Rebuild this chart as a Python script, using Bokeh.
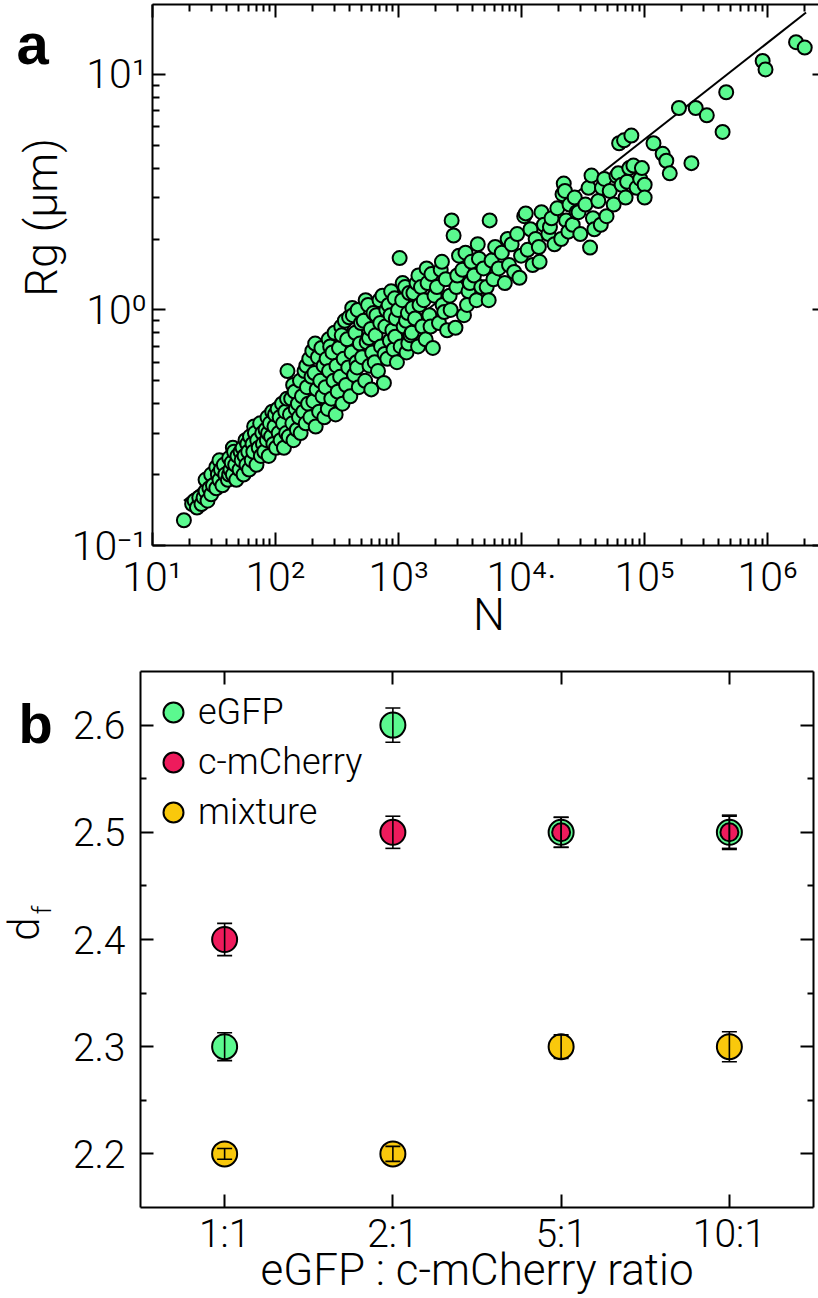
import math
from bokeh.plotting import figure
from bokeh.models import (Range1d, FixedTicker, LogAxis, LinearAxis,
                          Label, Whisker, TeeHead, ColumnDataSource,
                          Legend, LegendItem)
from bokeh.layouts import column, row
from bokeh.embed import file_html
from bokeh.resources import INLINE

# ---------------- panel a data ----------------
N = [
    18, 21, 22, 23, 24, 25,
    26, 27, 27, 28, 29, 30, 30, 31,
    33, 33, 34, 35, 35, 36, 37, 38, 39,
    41, 42, 42, 43, 44, 45, 45, 46, 47, 48, 49,
    51, 52, 53, 54, 55, 56, 57, 58, 59, 60, 61, 62,
    64, 65, 66, 67, 68, 70, 71, 73, 75, 76, 78, 79,
    81, 83, 85, 86, 87, 88, 90, 92, 94, 96, 98, 99,
    101, 104, 106, 108, 110, 113, 115, 117, 120, 122, 124, 125,
    128, 131, 134, 137, 139, 140, 143, 146, 149, 152, 155, 158,
    160, 164, 168, 172, 176, 178, 180, 184, 188, 192, 196, 199,
    203, 207, 210, 212, 216, 221, 226, 231, 236, 241, 246, 249,
    255, 260, 266, 270, 272, 278, 284, 290, 296, 302, 308, 313,
    320, 328, 335, 342, 345, 350, 358, 366, 374, 382, 390, 396,
    405, 415, 420, 425, 435, 445, 455, 460, 465, 475, 485, 495,
    505, 520, 535, 540, 550, 565, 575, 580, 595, 600, 610, 625,
    640, 650, 660, 680, 700, 710, 720, 740, 760, 770, 780, 795,
    810, 830, 850, 860, 870, 890, 910, 930, 940, 950, 970, 990,
    1020, 1040, 1070, 1080, 1100, 1130, 1150, 1160, 1190, 1200, 1220, 1250,
    1280, 1300, 1320, 1360, 1400, 1440, 1450, 1480, 1520, 1560,
    1600, 1660, 1690, 1720, 1780, 1820, 1850, 1900, 1960,
    2050, 2130, 2200, 2250, 2280, 2350, 2420, 2480,
    2600, 2650, 2700, 2800, 2900, 2950, 3000, 3100,
    3300, 3400, 3500, 3600, 3700, 3800, 3900,
    4100, 4300, 4400, 4500, 4700, 4900,
    5200, 5400, 5500, 5700, 5900, 6100,
    6500, 6900, 7300, 7700, 7900,
    8300, 8700, 9200, 9600, 9900,
    10500, 10800, 11200, 11800, 12300,
    13000, 13800, 14000, 14500, 15200,
    16500, 17000, 17500, 18500, 19500,
    21000, 21500, 22000, 22500, 23000, 24000, 24500,
    26000, 27000, 28000, 29000, 30000,
    33000, 35000, 36000, 37000, 38000, 39000,
    42000, 44000, 45000, 47000, 49000,
    52000, 56000, 59000, 61000, 62000,
    65000, 68000, 70000, 72000, 75000, 78000,
    81000, 86000, 92000, 95000, 100000, 100000,
    118000, 140000, 150000, 160000, 190000, 240000, 260000,
    320000, 430000, 460000, 910000, 960000, 1700000, 2000000,
]
Rg = [
    0.128, 0.150, 0.155, 0.145, 0.160, 0.150,
    0.160, 0.170, 0.190, 0.155, 0.175, 0.165, 0.200, 0.180,
    0.175, 0.215, 0.200, 0.190, 0.230, 0.210, 0.180, 0.220, 0.200,
    0.190, 0.235, 0.200, 0.210, 0.225, 0.200, 0.260, 0.250, 0.220, 0.190, 0.240,
    0.210, 0.250, 0.230, 0.260, 0.200, 0.240, 0.280, 0.220, 0.270, 0.250, 0.210, 0.290,
    0.230, 0.270, 0.250, 0.320, 0.300, 0.220, 0.280, 0.260, 0.330, 0.240, 0.300, 0.270,
    0.250, 0.310, 0.280, 0.350, 0.300, 0.240, 0.330, 0.290, 0.370, 0.270, 0.320, 0.360,
    0.260, 0.380, 0.300, 0.350, 0.280, 0.400, 0.330, 0.260, 0.370, 0.300, 0.420, 0.550,
    0.290, 0.360, 0.420, 0.330, 0.480, 0.280, 0.450, 0.380, 0.310, 0.400, 0.350, 0.500,
    0.300, 0.430, 0.370, 0.550, 0.330, 0.580, 0.470, 0.400, 0.620, 0.350, 0.520, 0.670,
    0.410, 0.540, 0.720, 0.320, 0.460, 0.630, 0.370, 0.500, 0.690, 0.430, 0.580, 0.350,
    0.470, 0.620, 0.380, 0.750, 0.550, 0.700, 0.420, 0.660, 0.500, 0.800, 0.360, 0.580,
    0.450, 0.690, 0.520, 0.850, 0.780, 0.400, 0.620, 0.900, 0.480, 0.750, 0.570, 0.930,
    0.430, 0.660, 1.020, 0.950, 0.530, 0.800, 0.600, 0.570, 1.000, 0.470, 0.720, 0.880,
    0.630, 0.900, 0.500, 1.100, 0.730, 1.050, 0.760, 0.580, 0.830, 0.460, 0.660, 0.970,
    0.600, 0.780, 0.950, 0.550, 1.100, 0.880, 0.700, 1.150, 0.490, 0.650, 0.850, 1.000,
    0.620, 1.050, 0.740, 0.950, 1.200, 0.820, 0.680, 1.120, 0.770, 0.920, 0.600, 1.000,
    1.660, 0.700, 1.100, 1.300, 0.850, 1.250, 0.900, 0.660, 0.970, 0.720, 1.180, 0.780,
    0.800, 1.020, 1.180, 0.920, 1.300, 0.700, 1.400, 1.050, 1.250, 0.850,
    1.100, 0.750, 1.500, 1.300, 0.950, 0.850, 1.420, 0.690, 1.150,
    1.250, 0.880, 1.480, 1.600, 1.050, 0.980, 1.350, 0.820,
    1.150, 1.000, 2.400, 2.070, 0.840, 1.250, 1.400, 1.700,
    1.480, 0.950, 1.750, 1.050, 1.200, 1.300, 1.600,
    1.400, 1.100, 1.900, 1.650, 1.250, 1.500,
    1.250, 1.100, 2.400, 1.620, 1.350, 1.850,
    1.500, 1.750, 1.300, 2.000, 1.550,
    1.900, 1.450, 2.100, 1.370, 1.700,
    2.500, 2.570, 1.800, 2.200, 1.550,
    2.000, 1.850, 1.600, 2.600, 2.300,
    2.100, 2.250, 2.450, 1.900, 2.700,
    2.000, 3.100, 3.440, 3.200, 2.400, 2.150, 2.800,
    2.300, 3.000, 2.600, 2.600, 2.100,
    2.800, 3.300, 1.840, 3.720, 2.450, 2.200,
    2.900, 2.300, 3.300, 3.600, 2.500,
    3.200, 2.800, 3.700, 3.800, 5.100,
    3.400, 5.250, 3.000, 3.500, 4.000, 5.500,
    4.100, 3.300, 3.600, 4.000, 3.400, 3.000,
    5.100, 4.600, 4.300, 3.800, 7.200, 4.200, 7.200,
    6.700, 5.700, 8.400, 11.400, 10.500, 13.700, 13.000,
]
fit_N = [18, 2.05e6]
fit_Rg = [0.155, 18.3]

x_tick_values = [1e1, 1e2, 1e3, 1e4, 1e5, 1e6]
x_tick_labels = ["10\u00b9", "10\u00b2", "10\u00b3", "10\u2074\u00b7", "10\u2075", "10\u2076"]
y_tick_values = [0.1, 1.0, 10.0]
y_tick_labels = ["10\u207b\u00b9", "10\u2070", "10\u00b9"]

# ---------------- panel b data ----------------
ratios = ["1:1", "2:1", "5:1", "10:1"]
egfp = [2.30, 2.60, 2.50, 2.50]
egfp_err = [0.013, 0.016, 0.014, 0.015]
cmcherry = [2.40, 2.50, 2.50, 2.50]
cmcherry_err = [0.015, 0.015, 0.014, 0.016]
mixture = [2.20, 2.20, 2.30, 2.30]
mixture_err = [0.005, 0.007, 0.011, 0.014]
df_ticks = [2.2, 2.3, 2.4, 2.5, 2.6]
df_minor_ticks = [2.25, 2.35, 2.45, 2.55]

# ---------------- styling ----------------
FONT = "Roboto Light"
BOLD_FONT = "Liberation Sans"
GREEN = "#5BF98F"
RED = "#EE1B5C"
YELLOW = "#F9C80C"

X_MIN, X_MAX = 10, 2.95e6
Y_MIN, Y_MAX = 0.1, 19.8
STRIP_W = 68          # narrow strip on the left that carries the panel letters / rotated titles
PA_H = 4 + 541 + 108  # top border + frame + bottom border of panel a
PB_H = 18 + 536 + 91  # top border + frame + bottom border of panel b


def style_axis(ax, label_size=None, minor_in=7, hidden_ticks=None):
    ax.axis_line_width = 2
    ax.axis_line_color = "black"
    ax.major_tick_in = 13
    ax.major_tick_out = 0
    ax.minor_tick_in = minor_in
    ax.minor_tick_out = 0
    ax.major_tick_line_width = 2
    ax.minor_tick_line_width = 2
    ax.major_tick_line_color = "black"
    ax.minor_tick_line_color = "black"
    ax.axis_label_text_color = "black"
    if label_size is None:
        # mirrored axis: ticks only, empty labels
        ax.major_label_text_font_size = "1px"
        ax.major_label_standoff = 0
        ax.major_label_overrides = {t: "" for t in hidden_ticks}
    else:
        ax.major_label_text_font = FONT
        ax.major_label_text_font_size = label_size
        ax.major_label_text_color = "black"


def clean(p):
    p.xgrid.visible = False
    p.ygrid.visible = False
    p.outline_line_color = None
    p.background_fill_color = "white"
    p.border_fill_color = "white"


def text_strip(height):
    # a frame-only figure as tall as its panel; y grows downwards from its top
    t = figure(width=STRIP_W, height=height,
               x_range=Range1d(0, STRIP_W), y_range=Range1d(height, 0),
               x_axis_location=None, y_axis_location=None, min_border=0,
               output_backend="svg", toolbar_location=None)
    t.grid.visible = False
    t.outline_line_color = None
    t.background_fill_color = "white"
    t.border_fill_color = "white"
    return t


def strip_label(text, x, y, size, bold=False, angle=0.0, align="left", baseline="alphabetic"):
    return Label(x=x, y=y, text=text, angle=angle,
                 text_font=BOLD_FONT if bold else FONT,
                 text_font_style="bold" if bold else "normal",
                 text_font_size=size, text_align=align, text_baseline=baseline,
                 text_color="black")


# ---------------- panel a ----------------
x_minor = [m * 10 ** e for e in range(1, 7) for m in range(2, 10) if m * 10 ** e < X_MAX]
y_minor = [m * 10.0 ** e for e in (-1, 0, 1) for m in range(2, 10) if m * 10.0 ** e < Y_MAX]
xticker = FixedTicker(ticks=x_tick_values, minor_ticks=x_minor)
yticker = FixedTicker(ticks=y_tick_values, minor_ticks=y_minor)

pa = figure(x_axis_type="log", y_axis_type="log",
            x_range=Range1d(X_MIN, X_MAX), y_range=Range1d(Y_MIN, Y_MAX),
            frame_width=673, frame_height=541,
            min_border_left=72, min_border_right=5, min_border_top=4, min_border_bottom=108,
            output_backend="svg", toolbar_location=None)
clean(pa)

pa.line(fit_N, fit_Rg, line_color="black", line_width=2)
pa.scatter(N, Rg, size=14, fill_color=GREEN, line_color="black", line_width=2)

xa = pa.xaxis[0]
xa.ticker = xticker
style_axis(xa, "41px")
xa.major_label_standoff = 7
xa.major_label_overrides = {v: t for v, t in zip(x_tick_values, x_tick_labels)}
xa.axis_label = "N"
xa.axis_label_text_font = FONT
xa.axis_label_text_font_size = "45px"
xa.axis_label_text_font_style = "normal"
xa.axis_label_standoff = -16

ya = pa.yaxis[0]
ya.ticker = yticker
style_axis(ya, "41px")
ya.major_label_standoff = 6
ya.major_label_overrides = {v: t for v, t in zip(y_tick_values, y_tick_labels)}

top_a = LogAxis(ticker=xticker)
style_axis(top_a, hidden_ticks=x_tick_values)
pa.add_layout(top_a, "above")
right_a = LogAxis(ticker=yticker)
style_axis(right_a, hidden_ticks=y_tick_values)
pa.add_layout(right_a, "right")

strip_a = text_strip(PA_H)
strip_a.add_layout(strip_label("a", 16, 47, "58px", bold=True))
strip_a.add_layout(strip_label("Rg (\u00b5m)", 41, 257, "45px", angle=math.pi / 2,
                               align="center", baseline="middle"))

# ---------------- panel b ----------------
# categories sit at positions 1..4 of a numeric axis labelled with the ratios
x_pos = list(range(1, len(ratios) + 1))
pb = figure(x_range=Range1d(0.5, len(ratios) + 0.5), y_range=Range1d(2.15, 2.65),
            frame_width=673, frame_height=536,
            min_border_left=72, min_border_right=5, min_border_top=18, min_border_bottom=91,
            output_backend="svg", toolbar_location=None)
clean(pb)

r_g = pb.scatter(x_pos, egfp, size=25, fill_color=GREEN, line_color="black", line_width=2)
cm_size = [25, 25, 18, 18]
cm_src = ColumnDataSource(dict(x=x_pos, y=cmcherry, s=cm_size))
r_c = pb.scatter("x", "y", source=cm_src, size="s", fill_color=RED, line_color="black", line_width=2)
r_m = pb.scatter(x_pos, mixture, size=25, fill_color=YELLOW, line_color="black", line_width=2)

for vals, errs in ((egfp, egfp_err), (cmcherry, cmcherry_err), (mixture, mixture_err)):
    src = ColumnDataSource(dict(x=x_pos,
                                up=[v + e for v, e in zip(vals, errs)],
                                lo=[v - e for v, e in zip(vals, errs)]))
    w = Whisker(source=src, base="x", upper="up", lower="lo", line_width=1.6, line_color="black",
                upper_head=TeeHead(size=15, line_width=1.6, line_color="black"),
                lower_head=TeeHead(size=15, line_width=1.6, line_color="black"))
    w.level = "overlay"
    pb.add_layout(w)

ratio_ticker = FixedTicker(ticks=x_pos, minor_ticks=[])
df_ticker = FixedTicker(ticks=df_ticks, minor_ticks=df_minor_ticks)

xb = pb.xaxis[0]
xb.ticker = ratio_ticker
style_axis(xb, "39px")
xb.major_label_overrides = {p: r for p, r in zip(x_pos, ratios)}
xb.major_label_standoff = 3
xb.axis_label = "eGFP : c-mCherry ratio"
xb.axis_label_text_font = FONT
xb.axis_label_text_font_size = "44px"
xb.axis_label_text_font_style = "normal"
xb.axis_label_standoff = -16

yb = pb.yaxis[0]
yb.ticker = df_ticker
style_axis(yb, "39px", minor_in=6)
yb.major_label_standoff = 15

top_b = LinearAxis(ticker=ratio_ticker)
style_axis(top_b, hidden_ticks=x_pos)
pb.add_layout(top_b, "above")
right_b = LinearAxis(ticker=df_ticker)
style_axis(right_b, minor_in=6, hidden_ticks=df_ticks)
pb.add_layout(right_b, "right")

legend = Legend(items=[LegendItem(label="eGFP", renderers=[r_g]),
                       LegendItem(label="c-mCherry", renderers=[r_c]),
                       LegendItem(label="mixture", renderers=[r_m])],
                location=(8, 370), glyph_width=50, glyph_height=50, spacing=0,
                label_standoff=0, padding=0, margin=0,
                border_line_color=None, background_fill_alpha=0,
                label_text_font=FONT, label_text_font_size="36px", label_text_color="black")
pb.add_layout(legend)

strip_b = text_strip(PB_H)
strip_b.add_layout(strip_label("b", 18, 62, "56px", bold=True))
strip_b.add_layout(strip_label("d", 24, 310, "42px", angle=math.pi / 2,
                               align="center", baseline="middle"))
strip_b.add_layout(strip_label("f", 41, 287, "26px", angle=math.pi / 2,
                               align="center", baseline="middle"))

layout = column(row(strip_a, pa), row(strip_b, pb))
with open("out.html", "w") as fh:
    fh.write(file_html(layout, INLINE))
